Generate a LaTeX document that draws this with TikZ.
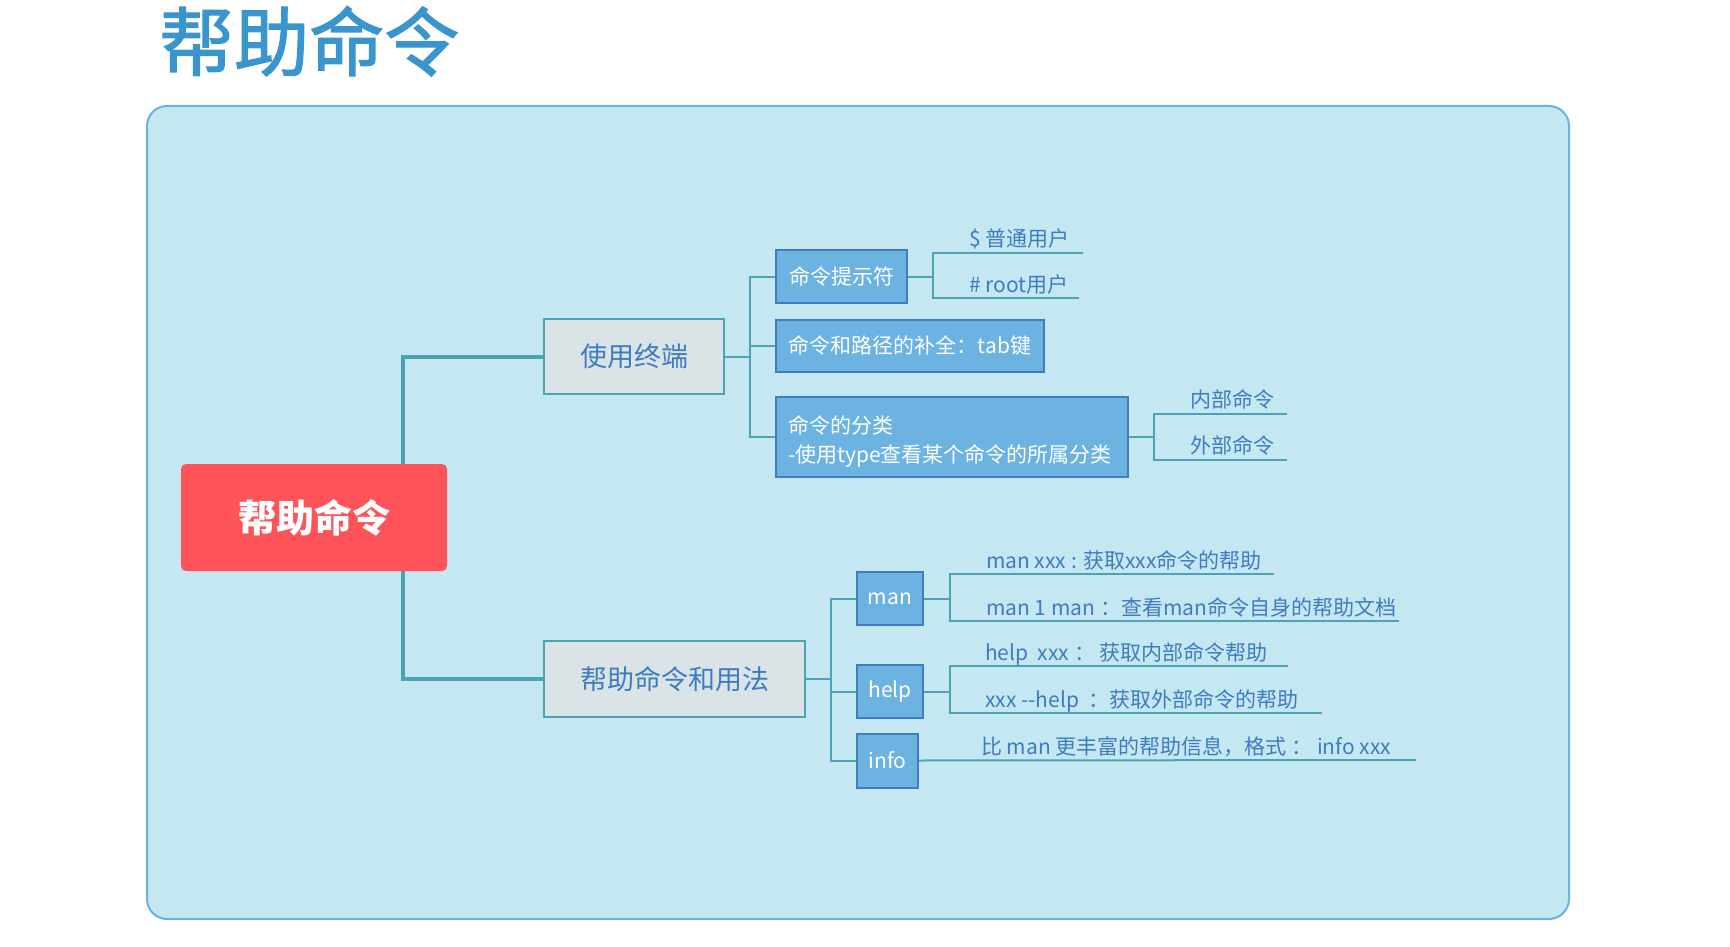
\documentclass[tikz,border=0pt]{standalone}
\usepackage{fontspec}
\setmainfont{Noto Sans CJK SC}
\newfontfamily\titlefont{Noto Sans CJK SC}[FakeBold=1.6]
\definecolor{bgfill}{HTML}{C5E7F1}
\definecolor{bgline}{HTML}{6AB2DF}
\definecolor{titlec}{HTML}{3A94CE}
\definecolor{rootc}{HTML}{FF535A}
\definecolor{grayfill}{HTML}{DAE3E6}
\definecolor{linec}{HTML}{4CA3B4}
\definecolor{bluefill}{HTML}{6CB3E2}
\definecolor{blueline}{HTML}{3F7EBE}
\definecolor{txtblue}{HTML}{3E7CC0}
\tikzset{
  rootbox/.style={fill=rootc, rounded corners=5pt, text=white, inner sep=0pt,
    font=\fontsize{38}{44}\selectfont\bfseries},
  lvlone/.style={draw=linec, line width=2pt, fill=grayfill, text=txtblue, inner sep=0pt,
    font=\fontsize{27}{32}\selectfont},
  bbox/.style={draw=blueline, line width=2pt, fill=bluefill, text=white, inner sep=0pt,
    font=\fontsize{21}{29}\selectfont},
  lbl/.style={text=txtblue, inner sep=0pt, anchor=base west, font=\fontsize{21}{25}\selectfont},
  conn/.style={draw=linec, line width=2pt},
  trunkc/.style={draw=linec, line width=4pt},
}
\begin{document}
\begin{tikzpicture}[x=1pt,y=-1pt]
\useasboundingbox (0,0) rectangle (1730,947);
% title
\node[anchor=base west, inner sep=0pt, text=titlec, font=\fontsize{75}{80}\titlefont] (title) at (159,70) {帮助命令};
% background panel
\draw[bgline, fill=bgfill, line width=2pt, rounded corners=20pt] (147,106) rectangle (1569,919);

% root and first level
\node[rootbox, minimum width=266pt, minimum height=107pt] (root) at (314,517.5) {帮助命令};
\node[lvlone, minimum width=180pt, minimum height=75pt] (use) at (634,356.5) {使用终端};
\node[lvlone, minimum width=261pt, minimum height=76pt] (howto) at (674.5,679) {帮助命令和用法};

\coordinate (tr) at (403,0);
\draw[trunkc] (root.north -| tr) |- (use.west);
\draw[trunkc] (root.south -| tr) |- (howto.west);

% second level, upper
\node[bbox, minimum width=131pt, minimum height=53pt] (prompt) at (841.5,276.5) {命令提示符};
\node[bbox, minimum width=268pt, minimum height=52pt] (compl) at (910,345.5) {命令和路径的补全：tab键};
\node[bbox, minimum width=352pt, minimum height=80pt, text width=328pt, inner xsep=12pt, align=left] (cls) at (952,437) {\rule{0pt}{26pt}命令的分类\\-使用type查看某个命令的所属分类};

\coordinate (ja) at (750,0);
\draw[conn] (use.east) -- (use.east -| ja) |- (prompt.west);
\draw[conn] (use.east) -- (use.east -| ja) |- (compl.west);
\draw[conn] (use.east) -- (use.east -| ja) |- (cls.west);

% second level, lower
\node[bbox, minimum width=66pt, minimum height=53pt] (man) at (890,598.5) {man};
\node[bbox, minimum width=66pt, minimum height=53pt] (help) at (890,691.5) {help};
\node[bbox, minimum width=61pt, minimum height=54pt] (info) at (887.5,760.5) {info};

\coordinate (jb) at (831,0);
\draw[conn] (howto.east) -- (howto.east -| jb) |- (man.west);
\draw[conn] (howto.east) -- (howto.east -| jb) |- (help.west);
\draw[conn] (howto.east) -- (howto.east -| jb) |- (info.west);

% leaves of prompt
\coordinate (jc) at (933,0);
\coordinate (e1) at (1083,253);
\coordinate (e2) at (1079,298);
\draw[conn] (prompt.east) -- (prompt.east -| jc) |- (e1);
\draw[conn] (prompt.east) -- (prompt.east -| jc) |- (e2);
\node[lbl] (t1) at (969,246) {\$ 普通用户};
\node[lbl] (t2) at (969,292) {\# root用户};

% leaves of cls
\coordinate (jd) at (1154,0);
\coordinate (e3) at (1287,414);
\coordinate (e4) at (1287,460);
\draw[conn] (cls.east) -- (cls.east -| jd) |- (e3);
\draw[conn] (cls.east) -- (cls.east -| jd) |- (e4);
\node[lbl] (t3) at (1190,407) {内部命令};
\node[lbl] (t4) at (1190,453) {外部命令};

% leaves of man
\coordinate (je) at (950,0);
\coordinate (e5) at (1274,574);
\coordinate (e6) at (1399,621);
\draw[conn] (man.east) -- (man.east -| je) |- (e5);
\draw[conn] (man.east) -- (man.east -| je) |- (e6);
\node[lbl] (t5) at (986,568) {man xxx : 获取xxx命令的帮助};
\node[lbl] (t6) at (986,615) {man 1 man ：查看man命令自身的帮助文档};

% leaves of help
\coordinate (e7) at (1288,666);
\coordinate (e8) at (1322,713);
\draw[conn] (help.east) -- (help.east -| je) |- (e7);
\draw[conn] (help.east) -- (help.east -| je) |- (e8);
\node[lbl] (t7) at (985,660) {help\ \ xxx ：\ 获取内部命令帮助};
\node[lbl] (t8) at (985,707) {xxx -{}-help\ \ ：获取外部命令的帮助};

% leaf of info
\coordinate (e9) at (1416,760);
\draw[conn] (info.east) -- (e9);
\node[lbl] (t9) at (981,754) {比 man 更丰富的帮助信息，格式 ：\ info xxx};
\end{tikzpicture}
\end{document}
